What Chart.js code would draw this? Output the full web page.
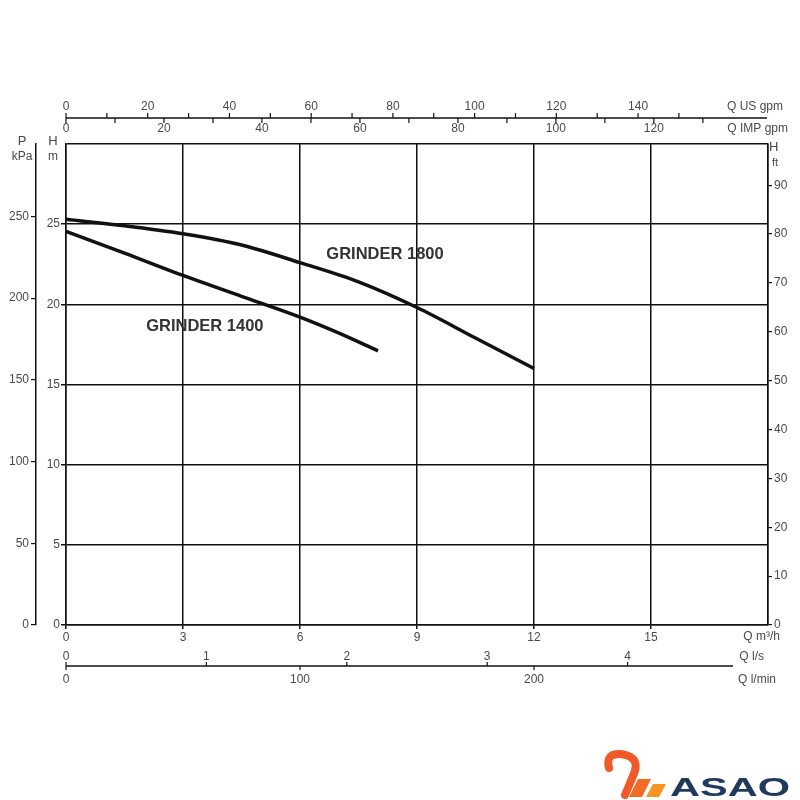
<!DOCTYPE html>
<html>
<head>
<meta charset="utf-8">
<script src="https://cdn.jsdelivr.net/npm/chart.js@4.4.0/dist/chart.umd.min.js"></script>
<style>
  html, body { margin: 0; padding: 0; background: #fff; }
  #wrap { width: 800px; height: 800px; }
</style>
</head>
<body>
<div id="wrap"><canvas id="chart" width="800" height="800"></canvas></div>
<script>
// --- Curve data (flow in m3/h, head in m) ---
const flow1800 = [0, 1.5, 3, 4.5, 6, 7.5, 9, 10.5, 12];
const head1800 = [25.3, 24.9, 24.4, 23.7, 22.6, 21.4, 19.8, 17.9, 16.0];
const flow1400 = [0, 1.5, 3, 4.5, 6, 7, 8];
const head1400 = [24.55, 23.2, 21.8, 20.5, 19.2, 18.2, 17.1];

// --- Secondary axis ticks ---
const usGpmLabels = [0, 20, 40, 60, 80, 100, 120, 140];
const usGpmMinor = [10, 30, 50, 70, 90, 110, 130, 150];
const impGpmLabels = [0, 20, 40, 60, 80, 100, 120];
const impGpmMinor = [10, 30, 50, 70, 90, 110, 130];
const lsLabels = [0, 1, 2, 3, 4];
const lminLabels = [0, 100, 200];

// axis ranges (same span as 0..18 m3/h and 0..30 m)
const Q_MAX = 18, H_MAX = 30;
const KPA_MAX = 294.3, FT_MAX = 98.43;
const US_MAX = 171.8, IMP_MAX = 143.3, LS_MAX = 5, LMIN_MAX = 300;

const INK = '#111';
const TXT = '#4a4a4a';
const FONT = '"Liberation Sans", Arial, sans-serif';

function toPoints(xs, ys) {
    return xs.map((x, i) => ({ x: x, y: ys[i] }));
}

// draws the gpm / l/s / l/min rulers, unit captions, curve names and logo
const extraAxes = {
    id: 'extraAxes',
    afterDraw(chart) {
        const ctx = chart.ctx;
        const area = chart.chartArea;
        const s = chart.scales;
        ctx.save();
        ctx.strokeStyle = INK;
        ctx.fillStyle = TXT;
        ctx.lineWidth = 1.5;
        ctx.font = '12px ' + FONT;

        // top ruler: US gpm above, IMP gpm below
        const topY = area.top - 26;
        ctx.beginPath();
        ctx.moveTo(area.left, topY);
        ctx.lineTo(area.right - 1, topY);
        ctx.stroke();
        ctx.lineWidth = 1.2;
        ctx.textAlign = 'center';
        ctx.textBaseline = 'middle';
        usGpmLabels.concat(usGpmMinor).forEach(v => {
            const px = s.xUS.getPixelForValue(v);
            ctx.beginPath(); ctx.moveTo(px, topY); ctx.lineTo(px, topY - 5); ctx.stroke();
        });
        impGpmLabels.concat(impGpmMinor).forEach(v => {
            const px = s.xIMP.getPixelForValue(v);
            ctx.beginPath(); ctx.moveTo(px, topY); ctx.lineTo(px, topY + 5); ctx.stroke();
        });
        usGpmLabels.forEach(v => ctx.fillText(String(v), s.xUS.getPixelForValue(v), topY - 11));
        impGpmLabels.forEach(v => ctx.fillText(String(v), s.xIMP.getPixelForValue(v), topY + 11));

        // bottom ruler: l/s above, l/min below
        const botY = area.bottom + 41;
        ctx.lineWidth = 1.5;
        ctx.beginPath();
        ctx.moveTo(area.left, botY);
        ctx.lineTo(733, botY);
        ctx.stroke();
        ctx.lineWidth = 1.2;
        lsLabels.forEach(v => {
            const px = s.xLs.getPixelForValue(v);
            ctx.beginPath(); ctx.moveTo(px, botY); ctx.lineTo(px, botY - 4); ctx.stroke();
            ctx.fillText(String(v), px, botY - 9);
        });
        lminLabels.forEach(v => {
            const px = s.xLmin.getPixelForValue(v);
            ctx.beginPath(); ctx.moveTo(px, botY); ctx.lineTo(px, botY + 4); ctx.stroke();
            ctx.fillText(String(v), px, botY + 14);
        });

        // unit captions
        ctx.textAlign = 'right';
        ctx.fillText('Q US gpm', 783, topY - 11);
        ctx.fillText('Q IMP gpm', 788, topY + 11);
        ctx.fillText('Q m\u00B3/h', 780, area.bottom + 12);
        ctx.fillText('Q l/s', 764, botY - 9);
        ctx.fillText('Q l/min', 776, botY + 14);

        ctx.textAlign = 'center';
        ctx.font = '13px ' + FONT;
        ctx.fillText('P', 22, area.top - 3);
        ctx.fillText('H', 53, area.top - 3);
        ctx.font = '12px ' + FONT;
        ctx.fillText('kPa', 22, area.top + 13);
        ctx.fillText('m', 53, area.top + 13);
        ctx.textAlign = 'left';
        ctx.font = '13px ' + FONT;
        ctx.fillText('H', 769, area.top + 3);
        ctx.font = '11px ' + FONT;
        ctx.fillText('ft', 772, area.top + 19);

        // curve names
        ctx.font = 'bold 16.5px ' + FONT;
        ctx.fillStyle = '#333';
        ctx.textAlign = 'center';
        ctx.fillText('GRINDER 1800', s.x.getPixelForValue(8.18), s.y.getPixelForValue(23.1));
        ctx.fillText('GRINDER 1400', s.x.getPixelForValue(3.56), s.y.getPixelForValue(18.6));

        // logo
        ctx.strokeStyle = '#f05a28';
        ctx.lineWidth = 8;
        ctx.lineCap = 'round';
        ctx.beginPath();
        ctx.moveTo(609, 768);
        ctx.quadraticCurveTo(605, 753, 621, 754);
        ctx.quadraticCurveTo(642, 757, 633, 776);
        ctx.lineTo(625, 795);
        ctx.stroke();
        ctx.fillStyle = '#f36b24';
        ctx.beginPath();
        ctx.moveTo(638, 779); ctx.lineTo(651, 779); ctx.lineTo(642, 797); ctx.lineTo(629, 797); ctx.closePath();
        ctx.fill();
        ctx.fillStyle = '#f7941d';
        ctx.beginPath();
        ctx.moveTo(653, 784); ctx.lineTo(666, 784); ctx.lineTo(659, 797); ctx.lineTo(646, 797); ctx.closePath();
        ctx.fill();
        ctx.fillStyle = '#1f3a5c';
        ctx.font = 'bold 26px ' + FONT;
        ctx.textAlign = 'left';
        ctx.textBaseline = 'alphabetic';
        ctx.translate(670, 796);
        ctx.scale(1.6, 1);
        ctx.fillText('ASAO', 0, 0);
        ctx.restore();
    }
};

const tickFont = { family: FONT, size: 12 };
const hideTop = (val, top) => (val >= top ? 'transparent' : INK);

new Chart(document.getElementById('chart'), {
    type: 'line',
    data: {
        datasets: [
            {
                label: 'GRINDER 1800',
                data: toPoints(flow1800, head1800),
                borderColor: INK,
                borderWidth: 3.5,
                pointRadius: 0,
                cubicInterpolationMode: 'monotone'
            },
            {
                label: 'GRINDER 1400',
                data: toPoints(flow1400, head1400),
                borderColor: INK,
                borderWidth: 3.5,
                pointRadius: 0,
                cubicInterpolationMode: 'monotone'
            }
        ]
    },
    options: {
        responsive: false,
        devicePixelRatio: 1,
        animation: false,
        layout: { padding: { left: 0, right: 0, top: 144, bottom: 145 } },
        plugins: { legend: { display: false }, tooltip: { enabled: false } },
        scales: {
            x: {
                type: 'linear',
                position: 'bottom',
                min: 0, max: Q_MAX,
                afterFit: sc => { sc.height = 30; },
                ticks: {
                    stepSize: 3, font: tickFont, color: TXT, padding: 1, maxRotation: 0,
                    callback: v => (v >= Q_MAX ? '' : v)
                },
                grid: {
                    color: INK, lineWidth: 1.5, tickLength: 4,
                    tickColor: c => hideTop(c.tick ? c.tick.value : 0, Q_MAX)
                },
                border: { color: INK, width: 1.5 }
            },
            y: {
                type: 'linear',
                position: 'left',
                weight: 0,
                min: 0, max: H_MAX,
                afterFit: sc => { sc.width = 30; },
                ticks: {
                    stepSize: 5, font: tickFont, color: TXT, padding: 1,
                    callback: v => (v >= H_MAX ? '' : v)
                },
                grid: {
                    color: INK, lineWidth: 1.5, tickLength: 5,
                    tickColor: c => hideTop(c.tick ? c.tick.value : 0, H_MAX)
                },
                border: { color: INK, width: 1.5 }
            },
            yKpa: {
                type: 'linear',
                position: 'left',
                weight: 1,
                min: 0, max: KPA_MAX,
                afterFit: sc => { sc.width = 36; },
                afterBuildTicks: sc => { sc.ticks = sc.ticks.filter(t => t.value % 50 === 0); },
                ticks: { stepSize: 50, font: tickFont, color: TXT, padding: 2 },
                grid: { drawOnChartArea: false, color: INK, tickLength: 5, lineWidth: 1.2 },
                border: { color: INK, width: 1.5 }
            },
            yFt: {
                type: 'linear',
                position: 'right',
                min: 0, max: FT_MAX,
                afterFit: sc => { sc.width = 32; },
                afterBuildTicks: sc => { sc.ticks = sc.ticks.filter(t => t.value % 10 === 0 && t.value <= 90); },
                ticks: { stepSize: 10, font: tickFont, color: TXT, padding: 2 },
                grid: { drawOnChartArea: false, color: INK, tickLength: 4, lineWidth: 1.2 },
                border: { color: INK, width: 1.5 }
            },
            xUS: { type: 'linear', position: 'top', display: false, min: 0, max: US_MAX },
            xIMP: { type: 'linear', position: 'top', display: false, min: 0, max: IMP_MAX },
            xLs: { type: 'linear', position: 'bottom', display: false, min: 0, max: LS_MAX },
            xLmin: { type: 'linear', position: 'bottom', display: false, min: 0, max: LMIN_MAX }
        }
    },
    plugins: [extraAxes]
});
</script>
</body>
</html>
